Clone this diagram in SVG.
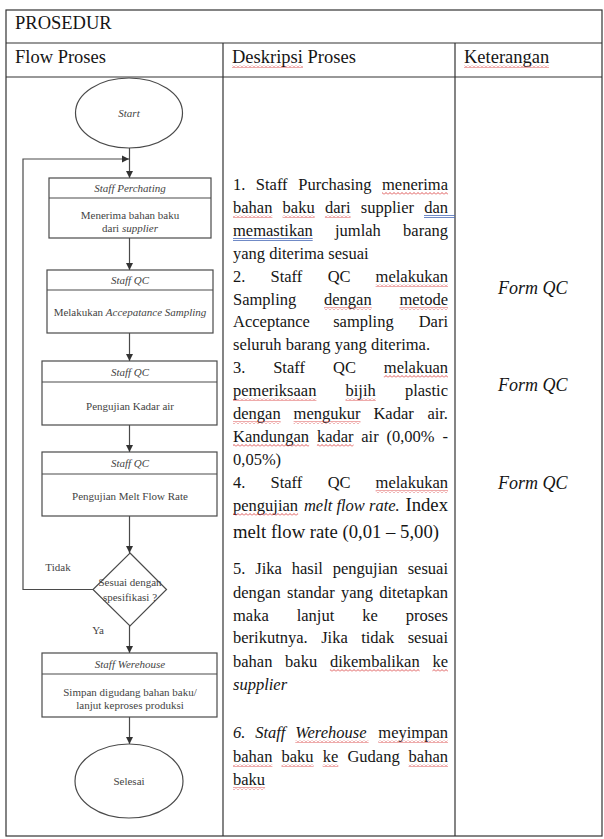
<svg xmlns="http://www.w3.org/2000/svg" width="604" height="839" viewBox="0 0 604 839">
<defs>
<style>
.tb{fill:none;stroke:#333;stroke-width:1.2}
.t{font-family:"Liberation Serif","Times New Roman",serif;fill:#151515}
.h{font-size:18.5px}
.b{font-size:16.5px}
.i{font-style:italic}
.e{text-anchor:end}
.fc{fill:#fff;stroke:#4a4a4a;stroke-width:1.2}
.ft{font-family:"Liberation Serif","Times New Roman",serif;font-size:11px;fill:#444;text-anchor:middle}
.cn{fill:none;stroke:#4a4a4a;stroke-width:1.2}
.sq{fill:url(#wv)}
.bu{stroke:#4b6cb7;stroke-width:0.8}
</style>
<pattern id="wv" width="4" height="3" patternUnits="userSpaceOnUse">
<polyline points="0,2.5 2,0.5 4,2.5" fill="none" stroke="#d42a2a" stroke-width="0.8"/>
</pattern>
<marker id="ah" markerWidth="8" markerHeight="8" refX="7" refY="4" orient="auto" markerUnits="userSpaceOnUse">
<path d="M0,0.5 L7,4 L0,7.5 Z" fill="#333"/>
</marker>
</defs>
<rect width="604" height="839" fill="#fff"/>

<g id="table">
<rect class="tb" x="6" y="10" width="596" height="826"/>
<line class="tb" x1="6" y1="43" x2="602" y2="43"/>
<line class="tb" x1="6" y1="77" x2="602" y2="77"/>
<line class="tb" x1="223" y1="43" x2="223" y2="836"/>
<line class="tb" x1="455" y1="43" x2="455" y2="836"/>
<text class="t h" x="15" y="29">PROSEDUR</text>
<text class="t h" x="15" y="63">Flow Proses</text>
<text class="t h" x="232" y="63">Deskripsi Proses</text>
<text class="t h" x="464" y="63">Keterangan</text>
<rect class="sq" x="232" y="65" width="71" height="3"/>
<rect class="sq" x="464" y="65" width="85" height="3"/>
</g>

<g id="connectors">
<line class="cn" x1="129.5" y1="148" x2="129.5" y2="178" marker-end="url(#ah)"/>
<line class="cn" x1="129.5" y1="238" x2="129.5" y2="270" marker-end="url(#ah)"/>
<line class="cn" x1="129.5" y1="333" x2="129.5" y2="361" marker-end="url(#ah)"/>
<line class="cn" x1="129.5" y1="425" x2="129.5" y2="452" marker-end="url(#ah)"/>
<line class="cn" x1="129.5" y1="516" x2="129.5" y2="553" marker-end="url(#ah)"/>
<line class="cn" x1="129.5" y1="626" x2="129.5" y2="653" marker-end="url(#ah)"/>
<line class="cn" x1="129.5" y1="717" x2="129.5" y2="744" marker-end="url(#ah)"/>
<path class="cn" d="M93,589.5 H23 V159 H129" marker-end="url(#ah)"/>
<text class="ft" x="58" y="570.5">Tidak</text>
<text class="ft" x="98" y="633.5">Ya</text>
</g>

<g id="start">
<ellipse class="fc" cx="129" cy="113" rx="53.5" ry="35"/>
<text class="ft i" x="129" y="116.5">Start</text>
</g>

<g id="n1">
<rect class="fc" x="49" y="178" width="162" height="60"/>
<line class="cn" x1="49" y1="198" x2="211" y2="198"/>
<text class="ft i" x="130" y="192">Staff Perchating</text>
<text class="ft" x="130" y="219">Menerima bahan baku</text>
<text class="ft" x="130" y="232">dari <tspan class="i">supplier</tspan></text>
</g>

<g id="n2">
<rect class="fc" x="47" y="270" width="166" height="63"/>
<line class="cn" x1="47" y1="290" x2="213" y2="290"/>
<text class="ft i" x="130" y="284">Staff QC</text>
<text class="ft" x="130" y="316">Melakukan <tspan class="i">Accepatance Sampling</tspan></text>
</g>

<g id="n3">
<rect class="fc" x="42" y="361" width="175" height="64"/>
<line class="cn" x1="42" y1="382" x2="217" y2="382"/>
<text class="ft i" x="130" y="376">Staff QC</text>
<text class="ft" x="130" y="410">Pengujian Kadar air</text>
</g>

<g id="n4">
<rect class="fc" x="42" y="452" width="175" height="64"/>
<line class="cn" x1="42" y1="474" x2="217" y2="474"/>
<text class="ft i" x="130" y="467">Staff QC</text>
<text class="ft" x="130" y="500">Pengujian Melt Flow Rate</text>
</g>

<g id="decision">
<polygon class="fc" points="130,553 166.5,589.5 130,626 93,589.5"/>
<text class="ft" x="130" y="585.5">Sesuai dengan</text>
<text class="ft" x="130" y="600.5">spesifikasi ?</text>
</g>

<g id="n5">
<rect class="fc" x="42" y="653" width="175" height="64"/>
<line class="cn" x1="42" y1="674" x2="217" y2="674"/>
<text class="ft i" x="130" y="668">Staff Werehouse</text>
<text class="ft" x="130" y="696">Simpan digudang bahan baku/</text>
<text class="ft" x="130" y="709">lanjut keproses produksi</text>
</g>

<g id="end">
<ellipse class="fc" cx="129" cy="781" rx="54" ry="37"/>
<text class="ft" x="129" y="785">Selesai</text>
</g>

<g id="deskripsi" class="t b">
<text y="190"><tspan x="233">1.</tspan><tspan x="255.8">Staff</tspan><tspan x="298.3">Purchasing</tspan></text>
<text class="e" x="448" y="190">menerima</text>
<text y="213"><tspan x="233">bahan</tspan><tspan x="282.6">baku</tspan><tspan x="324.9">dari</tspan><tspan x="360.8">supplier</tspan></text>
<text class="e" x="448" y="213">dan</text>
<text y="236"><tspan x="233">memastikan</tspan><tspan x="335">jumlah</tspan></text>
<text class="e" x="448" y="236">barang</text>
<text x="233" y="259">yang diterima sesuai</text>
<text y="282"><tspan x="233">2.</tspan><tspan x="270.5">Staff</tspan><tspan x="327.7">QC</tspan></text>
<text class="e" x="448" y="282">melakukan</text>
<text y="305"><tspan x="233">Sampling</tspan><tspan x="324">dengan</tspan></text>
<text class="e" x="448" y="305">metode</text>
<text y="327"><tspan x="233">Acceptance</tspan><tspan x="333.2">sampling</tspan></text>
<text class="e" x="448" y="327">Dari</text>
<text x="233" y="350">seluruh barang yang diterima.</text>
<text y="373"><tspan x="233">3.</tspan><tspan x="273.2">Staff</tspan><tspan x="333.1">QC</tspan></text>
<text class="e" x="448" y="373">melakuan</text>
<text y="396"><tspan x="233">pemeriksaan</tspan><tspan x="345.5">bijih</tspan></text>
<text class="e" x="448" y="396">plastic</text>
<text y="419"><tspan x="233">dengan</tspan><tspan x="293.6">mengukur</tspan><tspan x="373.4">Kadar</tspan></text>
<text class="e" x="448" y="419">air.</text>
<text y="442"><tspan x="233">Kandungan</tspan><tspan x="316.9">kadar</tspan><tspan x="361.3">air</tspan><tspan x="386.5">(0,00%</tspan></text>
<text class="e" x="448" y="442">-</text>
<text x="233" y="465">0,05%)</text>
<text y="488"><tspan x="233">4.</tspan><tspan x="270.5">Staff</tspan><tspan x="327.7">QC</tspan></text>
<text class="e" x="448" y="488">melakukan</text>
<text y="511"><tspan x="233">pengujian</tspan><tspan x="303.9" class="i">melt flow rate.</tspan></text>
<text class="e" x="448" y="511" font-size="18.7">Index</text>
<text x="233" y="538" font-size="18.7">melt flow rate (0,01 – 5,00)</text>
<text y="574"><tspan x="233">5.</tspan><tspan x="255.3">Jika</tspan><tspan x="291.7">hasil</tspan><tspan x="332.8">pengujian</tspan></text>
<text class="e" x="448" y="574">sesuai</text>
<text y="598"><tspan x="233">dengan</tspan><tspan x="287">standar</tspan><tspan x="340.9">yang</tspan></text>
<text class="e" x="448" y="598">ditetapkan</text>
<text y="621"><tspan x="233">maka</tspan><tspan x="296.7">lanjut</tspan><tspan x="362.3">ke</tspan></text>
<text class="e" x="448" y="621">proses</text>
<text y="643"><tspan x="233">berikutnya.</tspan><tspan x="321.2">Jika</tspan><tspan x="361.2">tidak</tspan></text>
<text class="e" x="448" y="643">sesuai</text>
<text y="667"><tspan x="233">bahan</tspan><tspan x="285.1">baku</tspan><tspan x="329.9">dikembalikan</tspan></text>
<text class="e" x="448" y="667">ke</text>
<text class="i" x="233" y="690">supplier</text>
<text y="738"><tspan x="233" class="i">6.</tspan><tspan x="255.2" class="i">Staff</tspan><tspan x="295.3" class="i">Werehouse</tspan></text>
<text class="e" x="448" y="738">meyimpan</text>
<text y="762"><tspan x="233">bahan</tspan><tspan x="281.5">baku</tspan><tspan x="322.7">ke</tspan><tspan x="347.4">Gudang</tspan></text>
<text class="e" x="448" y="762">bahan</text>
<text x="233" y="785">baku</text>
</g>

<g id="underlines">
<rect class="sq" x="382" y="192" width="66" height="3"/>
<rect class="sq" x="233" y="215" width="39.4" height="3"/>
<rect class="sq" x="282.6" y="215" width="32.1" height="3"/>
<rect class="sq" x="324.9" y="215" width="25.7" height="3"/>
<line class="bu" x1="424" y1="215.5" x2="455" y2="215.5"/>
<line class="bu" x1="424" y1="217.5" x2="455" y2="217.5"/>
<line class="bu" x1="233" y1="238.5" x2="312.7" y2="238.5"/>
<line class="bu" x1="233" y1="240.5" x2="312.7" y2="240.5"/>
<rect class="sq" x="375.6" y="284" width="72.4" height="3"/>
<rect class="sq" x="324" y="307" width="47.7" height="3"/>
<rect class="sq" x="399.4" y="307" width="48.6" height="3"/>
<rect class="sq" x="383.8" y="375" width="64.2" height="3"/>
<rect class="sq" x="233" y="398" width="83.4" height="3"/>
<rect class="sq" x="345.5" y="398" width="30.3" height="3"/>
<rect class="sq" x="233" y="421" width="47.7" height="3"/>
<rect class="sq" x="293.6" y="421" width="66.9" height="3"/>
<rect class="sq" x="233" y="444" width="76.1" height="3"/>
<rect class="sq" x="316.9" y="444" width="36.6" height="3"/>
<rect class="sq" x="375.6" y="490" width="72.4" height="3"/>
<rect class="sq" x="233" y="513" width="65.1" height="3"/>
<rect class="sq" x="329.9" y="669" width="89.8" height="3"/>
<rect class="sq" x="432.4" y="669" width="15.6" height="3"/>
<rect class="sq" x="295.3" y="740" width="73.3" height="3"/>
<rect class="sq" x="378.3" y="740" width="69.7" height="3"/>
<rect class="sq" x="233" y="764" width="39.4" height="3"/>
<rect class="sq" x="281.5" y="764" width="32.1" height="3"/>
<rect class="sq" x="322.7" y="764" width="15.6" height="3"/>
<rect class="sq" x="408.6" y="764" width="39.4" height="3"/>
<rect class="sq" x="233" y="787" width="32.1" height="3"/>
</g>

<g id="keterangan" class="t i" font-size="18">
<text x="498" y="294">Form QC</text>
<text x="498" y="391">Form QC</text>
<text x="498" y="489">Form QC</text>
</g>
</svg>
